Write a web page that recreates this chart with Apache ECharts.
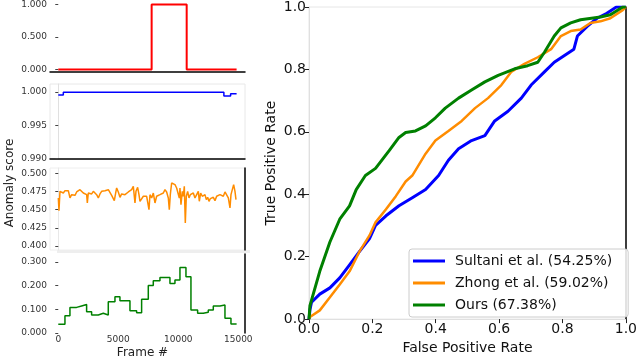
<!DOCTYPE html>
<html><head><meta charset="utf-8">
<script src="https://cdn.jsdelivr.net/npm/echarts@6/dist/echarts.min.js"></script>
<style>html,body{margin:0;padding:0;background:#fff}#c{width:640px;height:360px}</style>
</head><body><div id="c"></div>
<script>
// ---------- Left panels (frame-level anomaly scores) ----------
const redFrames = [0, 7780, 10700, 14860];
const redValues = [0, 1, 0, 0];
const redTicks = [0, 0.5, 1.0];

const blueFrames = [0, 420, 13800, 14360, 14860];
const blueValues = [0.99955, 1.0, 0.9994, 0.99975, 0.99975];
const blueTicks = [0.990, 0.995, 1.000];

const orangeFrames = [
 3,58,142,281,420,558,697,836,975,1114,
 1253,1392,1531,1670,1809,1947,2086,2225,2364,2420,
 2503,2642,2781,2920,3059,3198,3336,3475,3614,3753,
 3892,4031,4170,4309,4448,4587,4670,4781,4864,5003,
 5142,5281,5420,5559,5698,5837,5975,6114,6253,6337,
 6392,6475,6614,6725,6809,6948,7087,7226,7365,7503,
 7559,7642,
 7781,7920,8058,8197,8336,8475,8614,8753,8892,9031,
 9170,9253,9336,9447,9586,9725,9864,10003,10086,10142,
 10225,10336,10420,10503,10586,10670,10781,10892,11003,11114,
 11253,11392,11531,11670,11753,11864,12003,12114,12225,12336,
 12448,12559,12670,12781,12920,13059,13198,13336,13475,13614,
 13753,13892,14031,14170,14309,14392,14503,14614,14725,14809];
const orangeValues = [
 0.4661,0.4487,0.4752,0.4775,0.4729,0.4761,0.4743,0.4761,0.4661,0.4706,
 0.4716,0.4697,0.4743,0.4761,0.4775,0.4752,0.4729,0.4752,0.4706,0.4592,
 0.4729,0.4743,0.4716,0.4752,0.4729,0.4706,0.4661,0.4716,0.4752,0.4729,
 0.4761,0.4743,0.4775,0.4761,0.4697,0.4652,0.4624,0.4729,0.4798,0.4743,
 0.4670,0.4716,0.4729,0.4706,0.4716,0.4743,0.4729,0.4775,0.4821,0.4798,
 0.4592,0.4752,0.4807,0.4706,0.4615,0.4638,0.4684,0.4661,0.4684,0.4706,
 0.4501,0.4706,
 0.4661,0.4729,0.4592,0.4684,0.4661,0.4706,0.4684,0.4729,0.4775,0.4743,
 0.4661,0.4501,0.4706,0.4867,0.4853,0.4844,0.4798,0.4821,0.4661,0.4798,
 0.4569,0.4752,0.4684,0.4821,0.4317,0.4684,0.4752,0.4661,0.4706,0.4684,
 0.4729,0.4661,0.4706,0.4752,0.4615,0.4729,0.4684,0.4661,0.4706,0.4638,
 0.4670,0.4615,0.4652,0.4638,0.4670,0.4624,0.4684,0.4661,0.4706,0.4729,
 0.4684,0.4743,0.4761,0.4661,0.4523,0.4706,0.4775,0.4844,0.4752,0.4638];
const orangeTicks = [0.400, 0.425, 0.450, 0.475, 0.500];

const greenFrames = [0,556,972,1528,1945,2361,2778,3334,3750,4167,4723,5139,5973,6528,6945,
 7501,7917,8473,9306,9723,10140,10640,11056,11612,12084,12501,12918,13473,13890,14390,14862];
const greenValues = [0.037,0.073,0.108,0.114,0.120,0.090,0.076,0.083,0.076,0.132,0.153,0.136,0.094,0.085,0.142,
 0.200,0.220,0.234,0.209,0.223,0.276,0.237,0.097,0.083,0.087,0.097,0.114,0.118,0.062,0.038,0.038];
const greenTicks = [0, 0.1, 0.2, 0.3];
const frameTicks = [0, 5000, 10000, 15000];

// ---------- ROC curves ----------
const sultaniFPR = [0,0.003,0.008,0.034,0.066,0.097,0.128,0.159,0.191,0.21,0.243,0.284,0.326,0.368,0.409,0.44,0.472,0.513,0.555,0.586,0.628,0.67,0.701,0.743,0.774,0.805,0.836,0.847,0.878,0.909,0.94,0.97,1.0];
const sultaniTPR = [0,0.03,0.054,0.08,0.1,0.132,0.174,0.216,0.258,0.3,0.331,0.363,0.389,0.415,0.46,0.509,0.546,0.572,0.588,0.635,0.666,0.708,0.75,0.792,0.823,0.844,0.865,0.907,0.938,0.964,0.98,1.0,1.0];
const zhongFPR = [0,0.003,0.034,0.066,0.097,0.128,0.159,0.191,0.21,0.243,0.274,0.305,0.326,0.368,0.399,0.44,0.482,0.524,0.565,0.607,0.638,0.68,0.722,0.764,0.795,0.826,0.857,0.888,0.92,0.951,0.99,1.0];
const zhongTPR = [0,0.007,0.028,0.07,0.111,0.153,0.216,0.268,0.31,0.352,0.394,0.441,0.46,0.53,0.572,0.603,0.635,0.676,0.708,0.75,0.792,0.818,0.839,0.865,0.907,0.923,0.928,0.949,0.954,0.964,0.99,1.0];
const oursFPR = [0,0.003,0.034,0.066,0.097,0.128,0.149,0.178,0.21,0.253,0.284,0.305,0.336,0.368,0.399,0.43,0.472,0.513,0.555,0.597,0.649,0.69,0.722,0.743,0.774,0.795,0.826,0.857,0.92,0.951,0.99,1.0];
const oursTPR = [0,0.043,0.153,0.247,0.32,0.363,0.415,0.46,0.483,0.54,0.582,0.598,0.603,0.619,0.645,0.676,0.708,0.734,0.76,0.781,0.802,0.812,0.823,0.855,0.907,0.933,0.949,0.959,0.968,0.975,1.0,1.0];
const seriesNames = ['Sultani et al. (54.25%)', 'Zhong et al. (59.02%)', 'Ours (67.38%)'];
const rocTicks = [0, 0.2, 0.4, 0.6, 0.8, 1.0];

const zip = (a, b) => a.slice(0, Math.min(a.length, b.length)).map((v, i) => [v, b[i]]);
const FONT = 'DejaVu Sans';
const smallLabel = { fontFamily: FONT, fontSize: 9, color: '#333', margin: 3 };
const smallTick = { show: true, length: 3, lineStyle: { color: '#444', width: 1 } };

function panelX(idx, showLine, extra) {
  return Object.assign({
    type: 'value', gridIndex: idx, min: -690, max: 15560,
    axisLine: { show: showLine, onZero: false, lineStyle: { color: '#000', width: 1.5 } },
    axisTick: { show: false }, axisLabel: { show: false }, splitLine: { show: false }
  }, extra || {});
}
function panelY(idx, min, max, ticks, lineColor) {
  return {
    type: 'value', gridIndex: idx, min: min, max: max,
    axisLine: { show: !!lineColor, lineStyle: { color: lineColor || '#000' } },
    axisTick: Object.assign({ customValues: ticks }, smallTick),
    axisLabel: Object.assign({ customValues: ticks, formatter: v => v.toFixed(3) }, smallLabel),
    splitLine: { show: false }
  };
}
function rightSpine(idx) {
  return { type: 'value', gridIndex: idx, position: 'right', min: 0, max: 1,
    axisLine: { show: true, lineStyle: { color: '#000', width: 1.5 } },
    axisTick: { show: false }, axisLabel: { show: false }, splitLine: { show: false } };
}

const option = {
  animation: false,
  backgroundColor: '#fff',
  grid: [
    { left: 50, top: 0, width: 195, height: 72 },
    { left: 50, top: 84, width: 195, height: 75, show: true, borderColor: '#e8e8e8', borderWidth: 1 },
    { left: 50, top: 168, width: 195, height: 82, show: true, borderColor: '#eeeeee', borderWidth: 1 },
    { left: 50, top: 254, width: 195, height: 79.5 },
    { left: 309, top: 7, width: 320, height: 318.5, show: true, borderColor: '#e6e6e6', borderWidth: 1 }
  ],
  xAxis: [
    panelX(0, true),
    panelX(1, true),
    panelX(2, false),
    panelX(3, false, {
      axisLabel: { show: true, customValues: frameTicks, formatter: v => String(v),
        fontFamily: FONT, fontSize: 9, color: '#333', margin: 2 },
      name: 'Frame #', nameLocation: 'middle', nameGap: 14,
      nameTextStyle: { fontFamily: FONT, fontSize: 12, color: '#222', padding: [0, 10, 0, 0] }
    }),
    {
      type: 'value', gridIndex: 4, min: 0, max: 1, interval: 0.2,
      axisLine: { show: true, onZero: false, lineStyle: { color: '#e0e0e0' } },
      axisTick: { show: true, length: 4, lineStyle: { color: '#222' } },
      axisLabel: { fontFamily: FONT, fontSize: 14, color: '#111', margin: 3, formatter: v => v.toFixed(1) },
      splitLine: { show: false },
      name: 'False Positive Rate', nameLocation: 'middle', nameGap: 19,
      nameTextStyle: { fontFamily: FONT, fontSize: 14, color: '#111' }
    }
  ],
  yAxis: [
    panelY(0, -0.04, 1.05, redTicks, null),
    panelY(1, 0.9899, 1.00123, blueTicks, '#e0e0e0'),
    panelY(2, 0.3945, 0.5073, orangeTicks, '#e8e8e8'),
    panelY(3, 0, 0.333, greenTicks, null),
    {
      type: 'value', gridIndex: 4, min: 0, max: 1, interval: 0.2,
      axisLine: { show: true, lineStyle: { color: '#e0e0e0' } },
      axisTick: { show: true, length: 4, lineStyle: { color: '#222' } },
      axisLabel: { fontFamily: FONT, fontSize: 14, color: '#111', margin: 3, formatter: v => v.toFixed(1) },
      splitLine: { show: false },
      name: 'True Positive Rate', nameLocation: 'middle', nameGap: 31,
      nameTextStyle: { fontFamily: FONT, fontSize: 14, color: '#111' }
    },
    rightSpine(4),
    rightSpine(2),
    rightSpine(3)
  ],
  legend: {
    orient: 'vertical', left: 409, top: 249,
    data: seriesNames, icon: 'rect', itemWidth: 32, itemHeight: 3, itemGap: 6,
    padding: [4, 16, 4, 4],
    backgroundColor: 'rgba(255,255,255,0.85)', borderColor: '#cccccc', borderWidth: 1, borderRadius: 3,
    textStyle: { fontFamily: FONT, fontSize: 14, color: '#111', lineHeight: 16, padding: [0, 0, 0, 5] }
  },
  graphic: [
    { type: 'text', x: 10, y: 183, rotation: Math.PI / 2,
      style: { text: 'Anomaly score', fontFamily: FONT, fontSize: 12, fill: '#222', textAlign: 'center', textVerticalAlign: 'middle' } },
    { type: 'rect', shape: { x: 57, y: 250, width: 193, height: 3 }, style: { fill: '#eeeeee' } }
  ],
  series: [
    { type: 'line', xAxisIndex: 0, yAxisIndex: 0, data: zip(redFrames, redValues), step: 'end',
      symbol: 'none', lineStyle: { color: '#ff0000', width: 2 }, itemStyle: { color: '#ff0000' } },
    { type: 'line', xAxisIndex: 1, yAxisIndex: 1, data: zip(blueFrames, blueValues), step: 'end',
      symbol: 'none', lineStyle: { color: '#0000ff', width: 1.5 }, itemStyle: { color: '#0000ff' } },
    { type: 'line', xAxisIndex: 2, yAxisIndex: 2, data: zip(orangeFrames, orangeValues),
      symbol: 'none', lineStyle: { color: '#ff8c00', width: 1.5 }, itemStyle: { color: '#ff8c00' } },
    { type: 'line', xAxisIndex: 3, yAxisIndex: 3, data: zip(greenFrames, greenValues), step: 'end',
      symbol: 'none', lineStyle: { color: '#008000', width: 1.5 }, itemStyle: { color: '#008000' } },
    { name: seriesNames[0], type: 'line', xAxisIndex: 4, yAxisIndex: 4, data: zip(sultaniFPR, sultaniTPR),
      symbol: 'none', lineStyle: { color: '#0000ff', width: 3 }, itemStyle: { color: '#0000ff' } },
    { name: seriesNames[1], type: 'line', xAxisIndex: 4, yAxisIndex: 4, data: zip(zhongFPR, zhongTPR),
      symbol: 'none', lineStyle: { color: '#ff8c00', width: 2.5 }, itemStyle: { color: '#ff8c00' } },
    { name: seriesNames[2], type: 'line', xAxisIndex: 4, yAxisIndex: 4, data: zip(oursFPR, oursTPR),
      symbol: 'none', lineStyle: { color: '#008000', width: 3 }, itemStyle: { color: '#008000' } }
  ]
};
const chart = echarts.init(document.getElementById('c'), null, { renderer: 'canvas' });
chart.setOption(option);
</script>
</body></html>
